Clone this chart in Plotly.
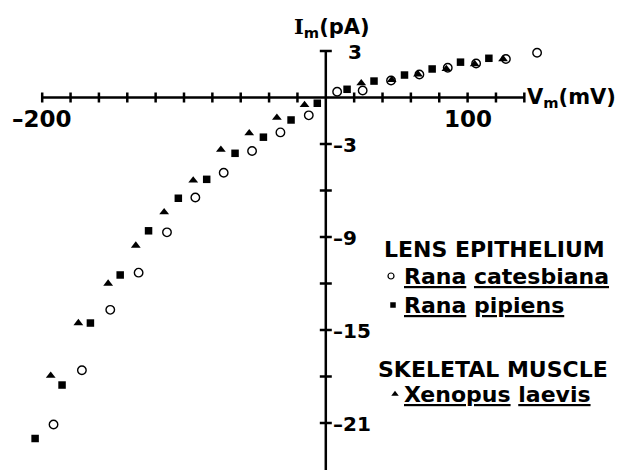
import plotly.graph_objects as go

# Membrane current (pA) versus membrane potential (mV)
v_catesbiana = [-192, -172, -152, -132, -112, -92, -72, -52, -32, -12,
                8, 26, 46, 66, 86, 106, 127, 149]
i_catesbiana = [-21.1, -17.6, -13.7, -11.3, -8.7, -6.45, -4.85, -3.45, -2.25, -1.15,
                0.37, 0.45, 1.1, 1.48, 1.92, 2.19, 2.48, 2.89]

v_pipiens = [-205, -186, -166, -145, -125, -104, -84, -64, -44, -24.5,
             -6, 15, 34, 55.5, 75, 95, 115]
i_pipiens = [-22.0, -18.55, -14.55, -11.45, -8.6, -6.5, -5.28, -3.6, -2.56, -1.45,
             -0.37, 0.53, 1.06, 1.45, 1.84, 2.28, 2.53]

v_laevis = [-194, -174.5, -153.5, -134, -114, -93.5, -74, -54, -34.5, -15,
            25, 46.5, 65, 85, 105, 125]
i_laevis = [-17.95, -14.55, -12.0, -9.55, -7.4, -5.35, -3.37, -2.3, -1.3, -0.48,
            0.92, 1.13, 1.5, 1.84, 2.16, 2.48]

x_ticks = [-200, -180, -160, -140, -120, -100, -80, -60, -40, -20,
           20, 40, 60, 80, 100, 120, 140]
x_tick_labels = {-200: "\u2013200", 100: "100"}
y_ticks = [3, -3, -6, -9, -12, -15, -18, -21]
y_tick_labels = {3: "3", -3: "\u20133", -9: "\u20139", -15: "\u201315", -21: "\u201321"}

W, H = 618, 470
FONT = "DejaVu Sans"
INK = "black"


def font(size):
    return dict(family=FONT, size=size, color=INK, weight="bold")


fig = go.Figure()

fig.add_trace(go.Scatter(
    x=v_catesbiana, y=i_catesbiana, mode="markers",
    marker=dict(symbol="circle-open", size=8.5, color=INK, line=dict(width=1.4, color=INK)),
))
fig.add_trace(go.Scatter(
    x=v_pipiens, y=i_pipiens, mode="markers",
    marker=dict(symbol="square", size=7.5, color=INK, line=dict(width=0)),
))
fig.add_trace(go.Scatter(
    x=v_laevis, y=i_laevis, mode="markers",
    marker=dict(symbol="triangle-up", size=8.5, color=INK, line=dict(width=0)),
))

# Legend keys, placed on an overlay axis measured in pixels
key_x = [391, 393, 395]
key_y = [276, 305, 394]
fig.add_trace(go.Scatter(x=[key_x[0]], y=[key_y[0]], xaxis="x2", yaxis="y2", mode="markers",
                         marker=dict(symbol="circle-open", size=6, color=INK, line=dict(width=1.2, color=INK))))
fig.add_trace(go.Scatter(x=[key_x[1]], y=[key_y[1]], xaxis="x2", yaxis="y2", mode="markers",
                         marker=dict(symbol="square", size=5.5, color=INK)))
fig.add_trace(go.Scatter(x=[key_x[2]], y=[key_y[2]], xaxis="x2", yaxis="y2", mode="markers",
                         marker=dict(symbol="triangle-up", size=6.5, color=INK)))

# Axes crossing at the origin, with cross ticks of fixed pixel length
AX_W = 2.5
shapes = [
    dict(type="line", xref="x", yref="y", x0=-200, x1=140, y0=0, y1=0,
         line=dict(color=INK, width=AX_W)),
    dict(type="line", xref="x", yref="y", x0=0, x1=0, y0=3, y1=-26,
         line=dict(color=INK, width=AX_W)),
]
for t in x_ticks:
    shapes.append(dict(type="line", xref="x", yref="y", x0=t, x1=t,
                       ysizemode="pixel", yanchor=0, y0=-5, y1=5,
                       line=dict(color=INK, width=AX_W)))
for t in y_ticks:
    shapes.append(dict(type="line", xref="x", yref="y", y0=t, y1=t,
                       xsizemode="pixel", xanchor=0, x0=-6, x1=6,
                       line=dict(color=INK, width=AX_W)))

annotations = []
for t, lab in x_tick_labels.items():
    annotations.append(dict(x=t, y=0, xref="x", yref="y", text=lab, showarrow=False,
                            xanchor="center", yanchor="middle", yshift=-21,
                            font=font(23)))
for t, lab in y_tick_labels.items():
    annotations.append(dict(x=0, y=t, xref="x", yref="y", text=lab, showarrow=False,
                            xanchor="left", yanchor="middle",
                            xshift=5 if t < 0 else 20, yshift=-1,
                            font=font(20)))

annotations.append(dict(x=292, y=27, xref="x2", yref="y2",
                        text="<span style=\"font-family:'DejaVu Serif'\">I</span><sub>m</sub>(pA)",
                        showarrow=False, xanchor="left", yanchor="middle",
                        font=font(21)))
annotations.append(dict(x=525, y=98, xref="x2", yref="y2",
                        text="V<sub>m</sub>(mV)",
                        showarrow=False, xanchor="left", yanchor="middle",
                        font=font(21)))

legend_lines = [
    (382, 249, "LENS EPITHELIUM"),
    (402, 276, "<u>Rana</u> <u>catesbiana</u>"),
    (402, 305, "<u>Rana</u> <u>pipiens</u>"),
    (376, 369, "SKELETAL MUSCLE"),
    (402, 394, "<u>Xenopus</u> <u>laevis</u>"),
]
for lx, ly, txt in legend_lines:
    annotations.append(dict(x=lx, y=ly, xref="x2", yref="y2", text=txt, showarrow=False,
                            xanchor="left", yanchor="middle", font=font(22)))

# data scale: x_px = 325.8 + 1.418*V ; y_px = 97.5 - 15.5*I
x_range = [(0 - 325.8) / 1.418, (W - 325.8) / 1.418]
y_range = [(97.5 - H) / 15.5, 97.5 / 15.5]

fig.update_layout(
    width=W, height=H,
    margin=dict(l=0, r=0, t=0, b=0),
    paper_bgcolor="white", plot_bgcolor="white",
    showlegend=False,
    xaxis=dict(range=x_range, visible=False, fixedrange=True),
    yaxis=dict(range=y_range, visible=False, fixedrange=True),
    xaxis2=dict(range=[0, W], visible=False, overlaying="x", fixedrange=True),
    yaxis2=dict(range=[H, 0], visible=False, overlaying="y", fixedrange=True),
    shapes=shapes,
    annotations=annotations,
)

fig.write_html("out.html")
